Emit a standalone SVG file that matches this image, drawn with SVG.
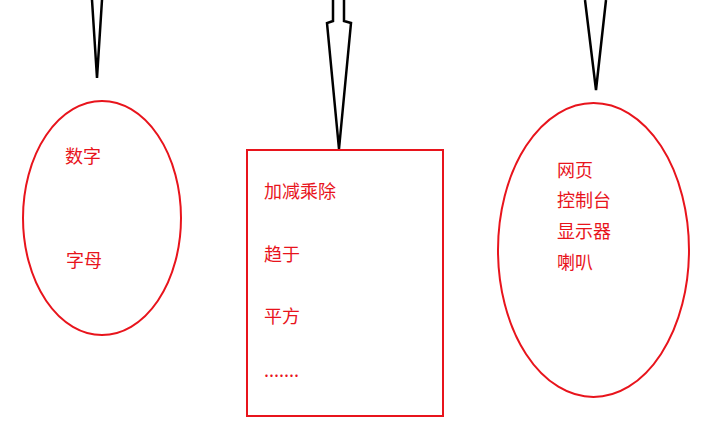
<svg xmlns="http://www.w3.org/2000/svg" width="711" height="423" viewBox="0 0 711 423">
<style>
.shape{fill:none;stroke:#e8141c;stroke-width:2}
.arrow{fill:none;stroke:#000;stroke-width:2.5;stroke-linejoin:miter}
.t{font-family:"Noto Sans CJK SC","Noto Sans",sans-serif;font-size:18px;fill:#e8141c}
</style>
<rect width="711" height="423" fill="#fff"/>
<g id="connectors">
<path class="arrow" d="M92,0 L97,78 L102,0"/>
<path class="arrow" d="M333,0 L333,21 L327,23 L339,149 L351,23 L344,21 L344,0"/>
<path class="arrow" d="M585,0 L596,90 L606,0"/>
</g>
<g id="node-input">
<ellipse class="shape" cx="102" cy="218" rx="79" ry="117"/>
<text class="t" x="65" y="163">数字</text>
<text class="t" x="66" y="267">字母</text>
</g>
<g id="node-process">
<rect class="shape" x="247" y="150" width="196" height="266"/>
<text class="t" x="264" y="198">加减乘除</text>
<text class="t" x="264" y="261">趋于</text>
<text class="t" x="264" y="323">平方</text>
<text class="t" x="264" y="377">.......</text>
</g>
<g id="node-output">
<ellipse class="shape" cx="593.5" cy="250" rx="95.5" ry="147"/>
<text class="t" x="557" y="177">网页</text>
<text class="t" x="557" y="207">控制台</text>
<text class="t" x="557" y="238">显示器</text>
<text class="t" x="557" y="269">喇叭</text>
</g>
</svg>
